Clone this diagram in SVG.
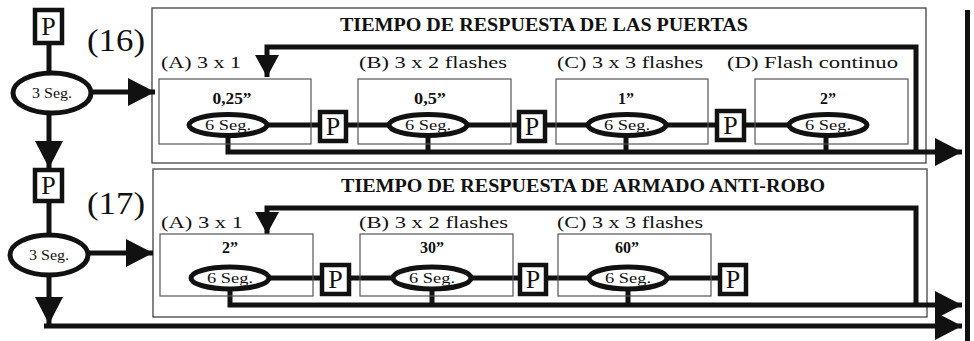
<svg xmlns="http://www.w3.org/2000/svg" width="974" height="341" viewBox="0 0 974 341">
<style>
.outer{fill:none;stroke:#333;stroke-width:1.2}
.inner{fill:none;stroke:#555;stroke-width:1.2}
.thick{fill:none;stroke:#111;stroke-width:5}
.ell{fill:#fff;stroke:#111;stroke-width:5}
.pbox{fill:#fff;stroke:#111;stroke-width:4.5}
.ptxt{font-family:"Liberation Serif",serif;font-size:26px;fill:#111;text-anchor:middle}
.seg{font-family:"Liberation Serif",serif;font-size:14px;fill:#111;text-anchor:middle}
.seg3{font-family:"Liberation Serif",serif;font-size:14px;fill:#111;text-anchor:middle}
.lbl{font-family:"Liberation Serif",serif;font-size:17px;fill:#111}
.val{font-family:"Liberation Serif",serif;font-size:16px;font-weight:bold;fill:#111;text-anchor:middle}
.title{font-family:"Liberation Serif",serif;font-size:18px;font-weight:bold;fill:#111}
.num{font-family:"Liberation Serif",serif;font-size:32px;fill:#111}
</style>
<defs>
<marker id="ah" markerUnits="userSpaceOnUse" markerWidth="27" markerHeight="28" refX="27" refY="14" orient="auto"><path d="M0,0 L27,14 L0,28 z" fill="#111"/></marker>
<marker id="ahs" markerUnits="userSpaceOnUse" markerWidth="22" markerHeight="24" refX="22" refY="12" orient="auto"><path d="M0,0 L22,12 L0,24 z" fill="#111"/></marker>
</defs>

<!-- outer frames -->
<g id="frame16">
<rect class="outer" x="152" y="8" width="774" height="155"/>
<text class="title" x="340" y="31" textLength="408" lengthAdjust="spacingAndGlyphs">TIEMPO DE RESPUESTA DE LAS PUERTAS</text>
</g>
<g id="frame17">
<rect class="outer" x="153" y="169" width="774" height="148"/>
<text class="title" x="341" y="192" textLength="484" lengthAdjust="spacingAndGlyphs">TIEMPO DE RESPUESTA DE ARMADO ANTI-ROBO</text>
</g>
<g id="label16"><text class="num" x="87" y="51" textLength="58" lengthAdjust="spacingAndGlyphs">(16)</text></g>
<g id="label17"><text class="num" x="87" y="214" textLength="58" lengthAdjust="spacingAndGlyphs">(17)</text></g>

<!-- right border bar -->
<rect x="965" y="10" width="5" height="331" fill="#111"/>

<!-- connectors -->
<g id="connectors">
<line class="thick" x1="49" y1="43" x2="49" y2="74"/>
<line class="thick" x1="49" y1="113" x2="49" y2="168" marker-end="url(#ah)"/>
<line class="thick" x1="92" y1="92" x2="155" y2="92" marker-end="url(#ah)"/>
<line class="thick" x1="49" y1="202" x2="49" y2="234"/>
<line class="thick" x1="49" y1="276" x2="49" y2="324" marker-end="url(#ah)"/>
<line class="thick" x1="89" y1="253" x2="153" y2="253" marker-end="url(#ah)"/>
<line class="thick" x1="44" y1="326" x2="962" y2="326" marker-end="url(#ah)"/>

<line class="thick" x1="267" y1="125" x2="318" y2="125"/>
<line class="thick" x1="347" y1="125" x2="390" y2="125"/>
<line class="thick" x1="467" y1="125" x2="517" y2="125"/>
<line class="thick" x1="547" y1="125" x2="588" y2="125"/>
<line class="thick" x1="665" y1="125" x2="715" y2="125"/>
<line class="thick" x1="746" y1="125" x2="789" y2="125"/>
<polyline class="thick" points="228,135 228,152 962,152" marker-end="url(#ah)"/>
<line class="thick" x1="428" y1="135" x2="428" y2="152"/>
<line class="thick" x1="626" y1="135" x2="626" y2="152"/>
<line class="thick" x1="826" y1="135" x2="826" y2="152"/>
<polyline class="thick" points="916,152 916,47 267,47 267,77" marker-end="url(#ahs)"/>

<line class="thick" x1="269" y1="278" x2="320" y2="278"/>
<line class="thick" x1="351" y1="278" x2="393" y2="278"/>
<line class="thick" x1="471" y1="278" x2="518" y2="278"/>
<line class="thick" x1="548" y1="278" x2="590" y2="278"/>
<line class="thick" x1="666" y1="278" x2="718" y2="278"/>
<polyline class="thick" points="230,289 230,305 962,305" marker-end="url(#ah)"/>
<line class="thick" x1="432" y1="289" x2="432" y2="305"/>
<line class="thick" x1="628" y1="289" x2="628" y2="305"/>
<polyline class="thick" points="916,305 916,208 267,208 267,234" marker-end="url(#ahs)"/>
</g>

<!-- left column nodes -->
<g id="p-top16"><rect class="pbox" x="35" y="10" width="27" height="33"/><text class="ptxt" x="48.5" y="35">P</text></g>
<g id="seg3-16"><ellipse class="ell" cx="52" cy="93" rx="39" ry="20"/><text class="seg3" x="52" y="98" textLength="40" lengthAdjust="spacingAndGlyphs">3 Seg.</text></g>
<g id="p-top17"><rect class="pbox" x="35" y="170" width="27" height="31"/><text class="ptxt" x="48.5" y="194">P</text></g>
<g id="seg3-17"><ellipse class="ell" cx="49" cy="255" rx="39" ry="20"/><text class="seg3" x="49" y="260" textLength="40" lengthAdjust="spacingAndGlyphs">3 Seg.</text></g>

<!-- row 16 nodes -->
<g id="n16a">
<text class="lbl" x="161" y="68" textLength="80" lengthAdjust="spacingAndGlyphs">(A) 3 x 1</text>
<rect class="inner" x="159" y="79" width="152" height="65"/>
<text class="val" x="232" y="104" textLength="39" lengthAdjust="spacingAndGlyphs">0,25”</text>
<ellipse class="ell" cx="228" cy="125" rx="39" ry="10.5"/>
<text class="seg" x="228" y="130" textLength="46" lengthAdjust="spacingAndGlyphs">6 Seg.</text>
</g>
<g id="p16ab"><rect class="pbox" x="320" y="112" width="26" height="29"/><text class="ptxt" x="333" y="135">P</text></g>
<g id="n16b">
<text class="lbl" x="359" y="68" textLength="148" lengthAdjust="spacingAndGlyphs">(B) 3 x 2 flashes</text>
<rect class="inner" x="358" y="79" width="153" height="65"/>
<text class="val" x="430" y="104" textLength="32" lengthAdjust="spacingAndGlyphs">0,5”</text>
<ellipse class="ell" cx="428" cy="125" rx="39" ry="10.5"/>
<text class="seg" x="428" y="130" textLength="46" lengthAdjust="spacingAndGlyphs">6 Seg.</text>
</g>
<g id="p16bc"><rect class="pbox" x="519" y="112" width="26" height="29"/><text class="ptxt" x="532" y="135">P</text></g>
<g id="n16c">
<text class="lbl" x="557" y="68" textLength="146" lengthAdjust="spacingAndGlyphs">(C) 3 x 3 flashes</text>
<rect class="inner" x="556" y="79" width="152" height="65"/>
<text class="val" x="626" y="104">1”</text>
<ellipse class="ell" cx="627" cy="125" rx="39" ry="10.5"/>
<text class="seg" x="627" y="130" textLength="46" lengthAdjust="spacingAndGlyphs">6 Seg.</text>
</g>
<g id="p16cd"><rect class="pbox" x="717" y="111" width="27" height="29"/><text class="ptxt" x="730.5" y="134">P</text></g>
<g id="n16d">
<text class="lbl" x="727" y="68" textLength="171" lengthAdjust="spacingAndGlyphs">(D) Flash continuo</text>
<rect class="inner" x="755" y="79" width="153" height="65"/>
<text class="val" x="828" y="104">2”</text>
<ellipse class="ell" cx="828" cy="125" rx="39" ry="10.5"/>
<text class="seg" x="828" y="130" textLength="46" lengthAdjust="spacingAndGlyphs">6 Seg.</text>
</g>

<!-- row 17 nodes -->
<g id="n17a">
<text class="lbl" x="161" y="228" textLength="82" lengthAdjust="spacingAndGlyphs">(A) 3 x 1</text>
<rect class="inner" x="160" y="234" width="153" height="62"/>
<text class="val" x="230" y="253">2”</text>
<ellipse class="ell" cx="230" cy="278" rx="39" ry="11"/>
<text class="seg" x="230" y="283" textLength="46" lengthAdjust="spacingAndGlyphs">6 Seg.</text>
</g>
<g id="p17ab"><rect class="pbox" x="322" y="265" width="27" height="29"/><text class="ptxt" x="335.5" y="288">P</text></g>
<g id="n17b">
<text class="lbl" x="359" y="228" textLength="149" lengthAdjust="spacingAndGlyphs">(B) 3 x 2 flashes</text>
<rect class="inner" x="360" y="234" width="153" height="62"/>
<text class="val" x="432" y="253">30”</text>
<ellipse class="ell" cx="432" cy="278" rx="39" ry="11"/>
<text class="seg" x="432" y="283" textLength="46" lengthAdjust="spacingAndGlyphs">6 Seg.</text>
</g>
<g id="p17bc"><rect class="pbox" x="520" y="265" width="26" height="29"/><text class="ptxt" x="533" y="288">P</text></g>
<g id="n17c">
<text class="lbl" x="557" y="228" textLength="146" lengthAdjust="spacingAndGlyphs">(C) 3 x 3 flashes</text>
<rect class="inner" x="558" y="234" width="153" height="62"/>
<text class="val" x="627" y="253">60”</text>
<ellipse class="ell" cx="628" cy="278" rx="39" ry="11"/>
<text class="seg" x="628" y="283" textLength="46" lengthAdjust="spacingAndGlyphs">6 Seg.</text>
</g>
<g id="p17end"><rect class="pbox" x="720" y="265" width="26" height="29"/><text class="ptxt" x="733" y="288">P</text></g>
</svg>
